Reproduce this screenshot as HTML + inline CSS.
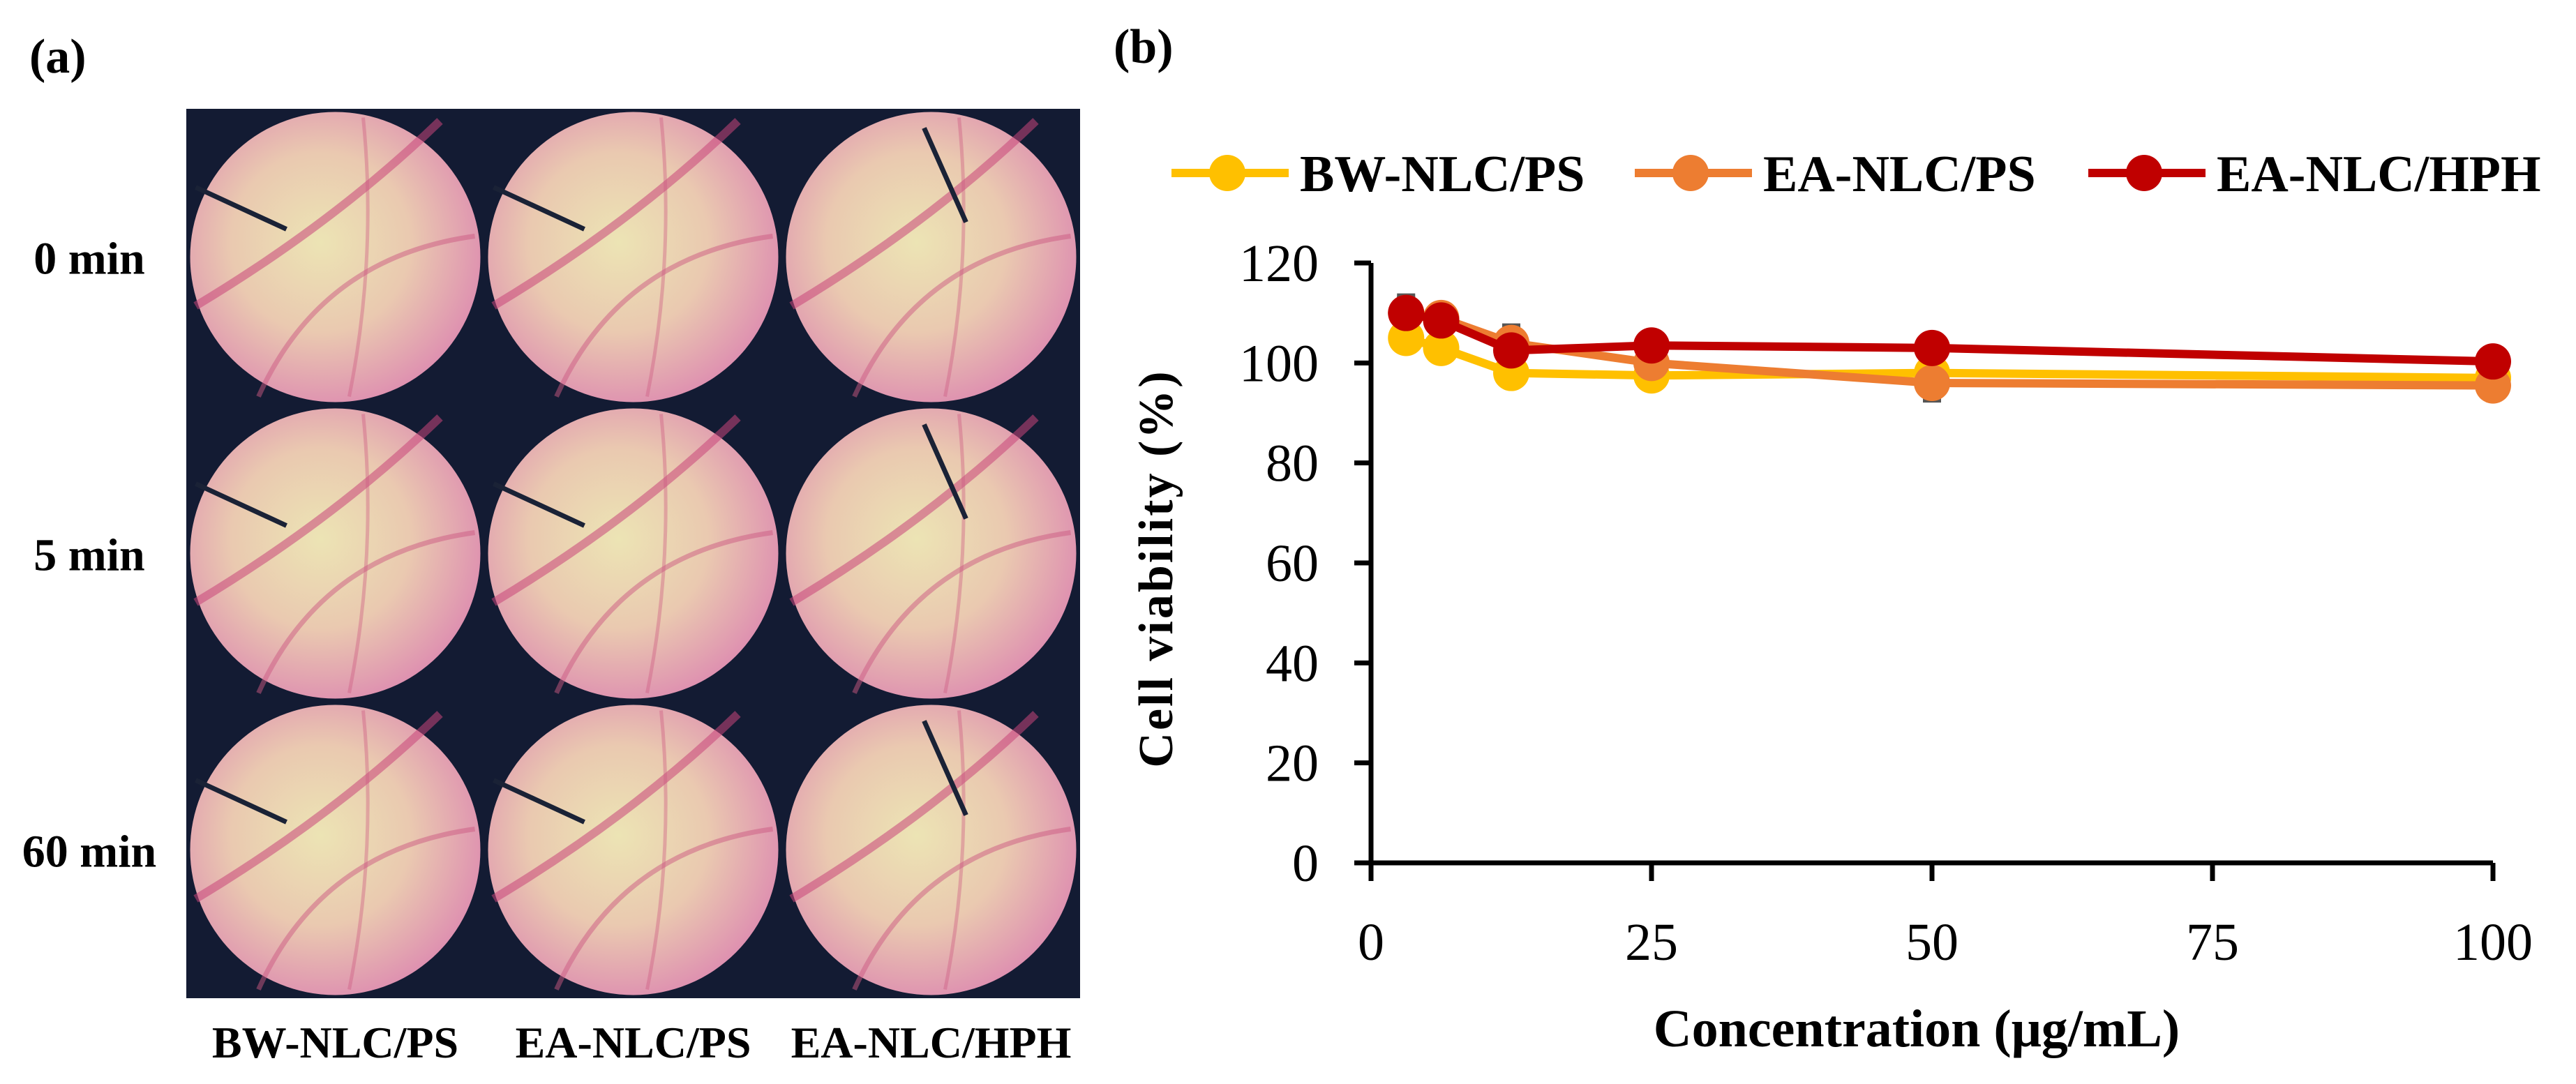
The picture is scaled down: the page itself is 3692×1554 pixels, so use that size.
<!DOCTYPE html>
<html><head><meta charset="utf-8"><style>
html,body{margin:0;padding:0;background:#fff;}
svg{display:block;font-family:"Liberation Serif",serif;}
</style></head><body>
<svg id="fig" width="3692" height="1554" viewBox="0 0 3692 1554">
<defs>
<radialGradient id="dish" cx="45%" cy="45%" r="62%">
<stop offset="0" stop-color="#ece4b4"/><stop offset="0.5" stop-color="#eac9b0"/><stop offset="1" stop-color="#dc86b0"/>
</radialGradient>
</defs>
<text x="42" y="104" font-size="70" font-weight="bold">(a)</text>
<text x="1596" y="90" font-size="70" font-weight="bold">(b)</text>
<g id="photos"></g>
<g id="chart"></g>
</svg>
<script>
const NS='http://www.w3.org/2000/svg';
function mk(tag,attrs,parent,txt){const e=document.createElementNS(NS,tag);for(const k in attrs)e.setAttribute(k,attrs[k]);if(txt!==undefined)e.textContent=txt;parent.appendChild(e);return e;}
// photo grid
const rowsLbl=['0 min','5 min','60 min'];
const colsLbl=['BW-NLC/PS','EA-NLC/PS','EA-NLC/HPH'];
const pg=document.getElementById('photos');
const gx=267,gy=156,cw=427,chh=425;
mk('rect',{x:gx,y:gy,width:cw*3,height:chh*3,fill:'#131b33'},pg);
for(let r=0;r<3;r++){for(let c=0;c<3;c++){
 const cx=gx+c*cw+cw/2,cy=gy+r*chh+chh/2;
 const g=mk('g',{},pg);
 
 
 mk('circle',{cx:cx,cy:cy,r:208,fill:'url(#dish)'},g);
 mk('path',{d:`M${cx-200} ${cy+70} Q${cx} ${cy-50} ${cx+150} ${cy-195}`,stroke:'#c8467a',"stroke-width":12,fill:'none',opacity:0.55},g);
 mk('path',{d:`M${cx-110} ${cy+200} Q${cx-20} ${cy} ${cx+200} ${cy-30}`,stroke:'#cc5a82',"stroke-width":7,fill:'none',opacity:0.5},g);
 mk('path',{d:`M${cx+40} ${cy-200} Q${cx+60} ${cy} ${cx+20} ${cy+200}`,stroke:'#cc5a82',"stroke-width":5,fill:'none',opacity:0.4},g);
 if(c===2)mk('line',{x1:cx-10,y1:cy-185,x2:cx+50,y2:cy-50,stroke:'#1a2236',"stroke-width":7},g);
 else mk('line',{x1:cx-200,y1:cy-100,x2:cx-70,y2:cy-40,stroke:'#1a2236',"stroke-width":7},g);
}}
rowsLbl.forEach((t,i)=>{const e=mk('text',{x:128,y:gy+i*chh+chh/2+24,"font-size":66,"font-weight":"bold","text-anchor":"middle"},pg,t);
 
 });
colsLbl.forEach((t,i)=>{const e=mk('text',{x:gx+i*cw+cw/2,y:1516,"font-size":64,"font-weight":"bold","text-anchor":"middle"},pg,t);
 
 });

// chart data
const conc=[3.125,6.25,12.5,25,50,100];
const bw=[105,103,98,97.5,98,97];
const eaps=[110,109,104,100,96,95.5];
const eahph=[110,108.5,102.5,103.5,103,100.3];
const errEaps=[3,1.5,3.5,1,3.5,1];
const errEahph=[3.5,1.5,1,1,1,1];
const xTicks=[0,25,50,75,100];
const yTicks=[0,20,40,60,80,100,120];
const seriesNames=['BW-NLC/PS','EA-NLC/PS','EA-NLC/HPH'];
const seriesColors=['#ffc000','#ed7d31','#c00000'];

const X0=1965,X1=3573,Y0=1237,Y1=377;
const xs=v=>X0+(v/100)*(X1-X0);
const ys=v=>Y0-(v/120)*(Y0-Y1);
const ch=document.getElementById('chart');
const ya=mk('line',{x1:X0,y1:ys(120),x2:X0,y2:Y0+26,stroke:'#000',"stroke-width":7},ch);


const xa=mk('line',{x1:X0-24,y1:Y0,x2:X1,y2:Y0,stroke:'#000',"stroke-width":7},ch);


yTicks.forEach(v=>{mk('line',{x1:X0-24,y1:ys(v),x2:X0,y2:ys(v),stroke:'#000',"stroke-width":7},ch);
 const t=mk('text',{x:1890,y:ys(v)+26,"font-size":76,"text-anchor":"end"},ch,v);
 
 });
xTicks.forEach(v=>{mk('line',{x1:xs(v),y1:Y0,x2:xs(v),y2:Y0+26,stroke:'#000',"stroke-width":7},ch);
 const t=mk('text',{x:xs(v),y:1376,"font-size":76,"text-anchor":"middle"},ch,v);
 
 });
const xt=mk('text',{x:2747,y:1500,"font-size":76,"font-weight":"bold","text-anchor":"middle"},ch,'Concentration (μg/mL)');


const yt=mk('text',{x:0,y:0,"font-size":70,"font-weight":"bold","text-anchor":"middle","letter-spacing":3,transform:'translate(1680,815) rotate(-90)'},ch,'Cell viability (%)');


// error bars
[[eaps,errEaps],[eahph,errEahph]].forEach(([s,e])=>{conc.forEach((c,i)=>{
 const l=mk('line',{x1:xs(c)-13,y1:ys(s[i]+e[i]),x2:xs(c)+13,y2:ys(s[i]+e[i]),stroke:'#555',"stroke-width":6},ch);
 
 
 const l2=mk('line',{x1:xs(c)-13,y1:ys(s[i]-e[i]),x2:xs(c)+13,y2:ys(s[i]-e[i]),stroke:'#555',"stroke-width":6},ch);
 
 
});});
// series
[bw,eaps,eahph].forEach((s,k)=>{
 const p=mk('polyline',{points:conc.map((c,i)=>xs(c)+','+ys(s[i])).join(' '),fill:'none',stroke:seriesColors[k],"stroke-width":12},ch);
 
 
 conc.forEach((c,i)=>{const m=mk('circle',{cx:xs(c),cy:ys(s[i]),r:26,fill:seriesColors[k]},ch);
  
  });
});
// legend
const lx=[1679,2343,2993];
seriesNames.forEach((n,k)=>{
 const g=mk('g',{},ch);
 
 
 mk('line',{x1:lx[k],y1:248,x2:lx[k]+168,y2:248,stroke:seriesColors[k],"stroke-width":12},g);
 mk('circle',{cx:lx[k]+80,cy:248,r:26,fill:seriesColors[k]},g);
 mk('text',{x:lx[k]+184,y:274,"font-size":74,"font-weight":"bold"},g,n);
});
</script>
</body></html>
